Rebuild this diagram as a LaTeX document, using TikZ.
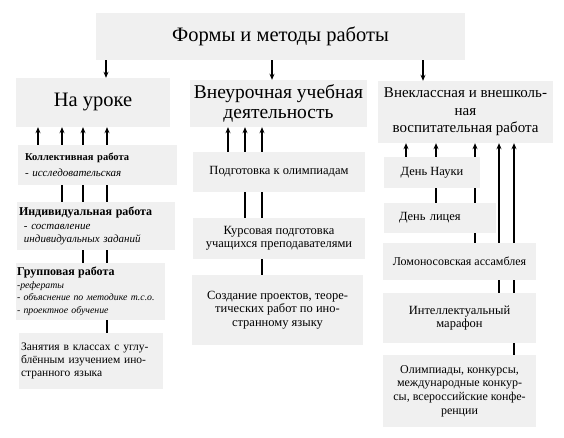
\documentclass[tikz,border=0pt]{standalone}
\usepackage{fontspec}
\setmainfont{Liberation Serif}
\usetikzlibrary{arrows.meta, backgrounds}

\begin{document}
\begin{tikzpicture}[x=1pt, y=-1pt,
    box/.style={fill=gray!12, inner sep=2pt, align=center, font=\rmfamily\fontsize{12.5}{13.5}\selectfont},
    lbox/.style={fill=gray!12, inner sep=2pt, align=left, font=\rmfamily\fontsize{11}{13}\selectfont},
    up/.style={-{Stealth[length=6pt, width=5pt]}, line width=1.6pt},
    down/.style={-{Stealth[length=6pt, width=5pt]}, line width=1.2pt}]
  \useasboundingbox (0,0) rectangle (564,438);

  % headings
  \node[box, minimum width=369, minimum height=47, font=\rmfamily\fontsize{20.5}{24}\selectfont] (forms) at (280.5,36.5) {Формы и методы работы};
  \node[box, minimum width=154, minimum height=49, font=\rmfamily\fontsize{20.5}{24}\selectfont] (lesson) at (93,102.5) {На уроке};
  \node[box, minimum width=177, minimum height=47, font=\rmfamily\fontsize{19.5}{20}\selectfont] (extra) at (278.5,103.5) {Внеурочная учебная\\деятельность};
  \node[box, minimum width=175, minimum height=62, font=\rmfamily\fontsize{15}{17.5}\selectfont] (outside) at (465.5,112) {Внеклассная и внешколь-\\ная\\воспитательная работа};

  % left column
  \node[lbox, minimum width=159, text width=151, minimum height=40] (collective) at (97.5,165)
    {\hspace*{3pt}{\fontsize{10.5}{13}\selectfont\bfseries Коллективная работа}\\[3pt]\hspace*{3pt}\textit{- исследовательская}};
  \node[lbox, minimum width=158, text width=154, minimum height=48] (individual) at (96,226)
    {{\fontsize{12}{13}\selectfont\bfseries Индивидуальная работа}\\[1pt]\hspace*{5pt}\textit{- составление}\\\hspace*{5pt}\textit{индивидуальных заданий}};
  \node[lbox, minimum width=149, inner xsep=1pt, text width=147, minimum height=57, font=\rmfamily\fontsize{9.8}{12.5}\selectfont] (group) at (90.5,291.5)
    {{\fontsize{12}{13}\selectfont\bfseries Групповая работа}\\\textit{-рефераты}\\\mbox{\textit{- объяснение по методике т.с.о.}}\\\textit{- проектное обучение}};
  \node[lbox, minimum width=144, text width=140, minimum height=56, font=\rmfamily\fontsize{11.5}{13}\selectfont] (classes) at (91,361)
    {Занятия в классах с углу-\\блённым изучением ино-\\странного языка};

  % middle column
  \node[box, minimum width=172, minimum height=40] (olymp) at (279,172) {Подготовка к олимпиадам};
  \node[box, minimum width=172, minimum height=41] (course) at (279,238.5) {Курсовая подготовка\\учащихся преподавателями};
  \node[box, minimum width=171, minimum height=70] (projects) at (277.5,310) {Создание проектов, теоре-\\тических работ по ино-\\странному языку};

  % right column
  \node[box, minimum width=96, minimum height=31] (science) at (432,172.5) {День Науки};
  \node[box, minimum width=112, minimum height=30, text width=108, align=left] (lyceum) at (440,218) {\hspace*{13pt}День лицея};
  \node[box, minimum width=153, minimum height=37, font=\rmfamily\fontsize{12}{13.5}\selectfont] (lomonosov) at (459.5,261.5) {Ломоносовская ассамблея};
  \node[box, minimum width=153, minimum height=50] (marathon) at (459.5,318) {Интеллектуальный\\марафон};
  \node[box, minimum width=153, minimum height=72, font=\rmfamily\fontsize{12}{13.7}\selectfont] (olympiads) at (459.5,391) {Олимпиады, конкурсы,\\международные конкур-\\сы, всероссийские конфе-\\ренции};

  % arrows down from the heading
  \draw[down] (forms.south -| 106,0) -- (lesson.north -| 106,0);
  \draw[down] (forms.south -| 272,0) -- (extra.north -| 272,0);
  \draw[down] (forms.south -| 423,0) -- (outside.north -| 423,0);

  % arrows up, hidden behind the boxes they cross
  \begin{scope}[on background layer]
    \foreach \n/\x in {collective/38, individual/62, group/83, classes/107}
      \draw[up] (\n.north -| \x,0) -- (lesson.south -| \x,0);
    \foreach \n/\x in {olymp/228, course/245, projects/262}
      \draw[up] (\n.north -| \x,0) -- (extra.south -| \x,0);
    \foreach \n/\x in {science/406, lyceum/436, lomonosov/475, marathon/499, olympiads/514}
      \draw[up] (\n.north -| \x,0) -- (outside.south -| \x,0);
  \end{scope}
\end{tikzpicture}
\end{document}
